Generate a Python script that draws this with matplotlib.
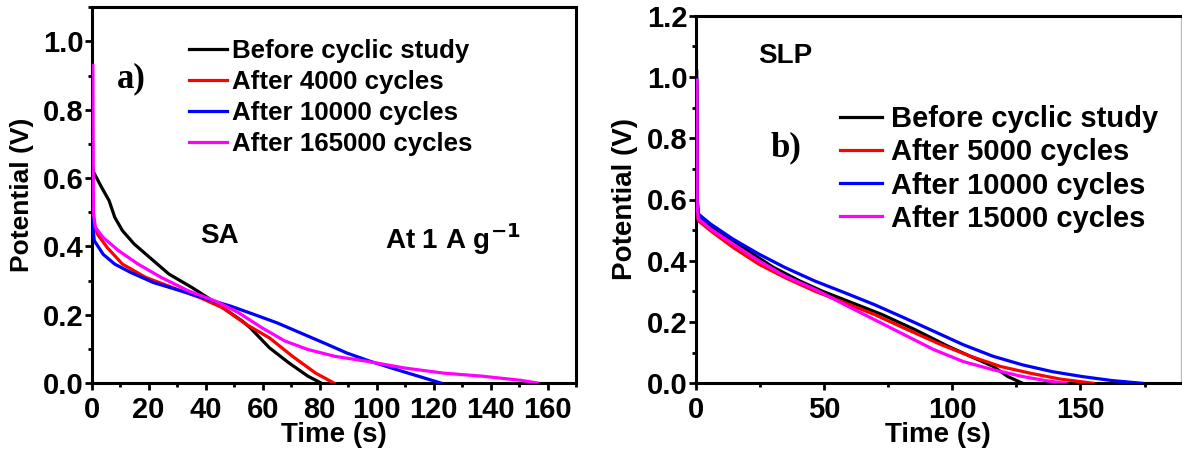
import matplotlib
matplotlib.use("Agg")
import matplotlib.pyplot as plt
from matplotlib.ticker import MultipleLocator

plt.rcParams['font.family'] = ['Liberation Sans', 'DejaVu Sans']
plt.rcParams['font.weight'] = 'bold'
plt.rcParams['mathtext.fontset'] = 'custom'
plt.rcParams['mathtext.rm'] = 'Liberation Sans:bold'
plt.rcParams['mathtext.default'] = 'regular'

# ---------------- Data: panel a (SA) ----------------
sa_labels = ["Before cyclic study", "After 4000 cycles", "After 10000 cycles", "After 165000 cycles"]
sa_colors = ["#000000", "#ff0000", "#0000ff", "#ff00ff"]

sa_black_t = [0.4, 0.5, 3.4, 6.1, 8.1, 10.8, 14.9, 20.3, 27.1, 35.3, 40.7, 46.1, 52.9, 55.6, 62.4, 69.2, 75.9, 80.5]
sa_black_v = [0.63, 0.62, 0.574, 0.534, 0.485, 0.446, 0.407, 0.368, 0.319, 0.279, 0.25, 0.22, 0.181, 0.162, 0.103, 0.059, 0.02, 0.0]

sa_red_t = [0.4, 0.6, 2, 5.4, 10.8, 19, 28.5, 38, 46, 54.2, 62.4, 70.5, 78.6, 85]
sa_red_v = [0.5, 0.47, 0.436, 0.397, 0.348, 0.309, 0.279, 0.25, 0.22, 0.172, 0.132, 0.078, 0.029, 0.0]

sa_blue_t = [0.4, 0.5, 0.9, 4, 8.1, 13.6, 21.7, 31.2, 40.7, 48.8, 56.9, 65.1, 73.2, 82.7, 89.5, 97.6, 107.1, 116.6, 122.5]
sa_blue_v = [0.48, 0.45, 0.417, 0.377, 0.348, 0.324, 0.294, 0.27, 0.245, 0.225, 0.201, 0.176, 0.147, 0.113, 0.088, 0.064, 0.039, 0.015, 0.0]

sa_mag_t = [0.4, 0.6, 1.3, 4, 9.5, 16.3, 24.4, 33.9, 43.4, 51.5, 59.7, 67.8, 75.9, 85.4, 96.3, 109.8, 123.4, 137, 150.5, 156.5]
sa_mag_v = [0.93, 0.5, 0.456, 0.426, 0.387, 0.348, 0.309, 0.27, 0.24, 0.206, 0.162, 0.123, 0.098, 0.078, 0.064, 0.044, 0.029, 0.02, 0.008, 0.0]

# ---------------- Data: panel b (SLP) ----------------
slp_labels = ["Before cyclic study", "After 5000 cycles", "After 10000 cycles", "After 15000 cycles"]
slp_colors = ["#000000", "#ff0000", "#0000ff", "#ff00ff"]

slp_black_t = [0.4, 0.6, 1.0, 4.3, 11.6, 20.3, 30.4, 40.6, 49.3, 60.9, 72.5, 85.5, 98.6, 108.7, 116, 121.7, 127.5]
slp_black_v = [1.02, 0.6, 0.553, 0.52, 0.476, 0.433, 0.378, 0.334, 0.301, 0.263, 0.225, 0.175, 0.12, 0.082, 0.055, 0.022, 0.0]

slp_red_t = [0.4, 0.6, 1.0, 5.8, 14.5, 24.6, 34.8, 46.4, 58, 69.6, 82.6, 95.7, 107.2, 118.8, 130.4, 142, 155]
slp_red_v = [0.98, 0.58, 0.531, 0.498, 0.444, 0.389, 0.345, 0.301, 0.263, 0.225, 0.175, 0.126, 0.088, 0.055, 0.033, 0.014, 0.0]

slp_blue_t = [0.4, 0.6, 1.0, 5.8, 14.5, 24.6, 34.8, 46.4, 58, 69.6, 81.2, 92.8, 104.3, 116, 127.5, 139, 150.7, 162.3, 174]
slp_blue_v = [0.99, 0.6, 0.553, 0.52, 0.471, 0.422, 0.378, 0.334, 0.296, 0.257, 0.214, 0.17, 0.126, 0.088, 0.06, 0.038, 0.022, 0.009, 0.0]

slp_mag_t = [0.4, 0.6, 1.0, 5.8, 14.5, 24.6, 34.8, 46.4, 58, 69.6, 81.2, 92.8, 104.3, 116, 127.5, 136.2, 144.2]
slp_mag_v = [0.99, 0.58, 0.537, 0.504, 0.455, 0.4, 0.35, 0.307, 0.257, 0.208, 0.159, 0.11, 0.071, 0.044, 0.022, 0.009, 0.0]

sa_series = [(sa_black_t, sa_black_v), (sa_red_t, sa_red_v), (sa_blue_t, sa_blue_v), (sa_mag_t, sa_mag_v)]
slp_series = [(slp_black_t, slp_black_v), (slp_red_t, slp_red_v), (slp_blue_t, slp_blue_v), (slp_mag_t, slp_mag_v)]

W, H = 1182, 451
fig = plt.figure(figsize=(W / 100, H / 100), dpi=100)

ax1 = fig.add_axes([91.7 / W, 1 - 383 / H, (576 - 91.7) / W, (383 - 7.3) / H])
ax2 = fig.add_axes([695.7 / W, 1 - 383.3 / H, (1180.5 - 695.7) / W, (383.3 - 15.7) / H])

def style(ax):
    for s in ax.spines.values():
        s.set_linewidth(2.2)
    ax.tick_params(axis='both', which='major', direction='out', length=5, width=2,
                   labelsize=21, top=False, right=False)
    ax.tick_params(axis='x', which='major', pad=4)
    ax.tick_params(axis='y', which='major', pad=1)
    ax.tick_params(axis='both', which='minor', direction='out', length=3, width=2,
                   top=False, right=False)
    for lab in ax.get_xticklabels() + ax.get_yticklabels():
        lab.set_fontweight('bold')

for (t, v), c, l in zip(sa_series, sa_colors, sa_labels):
    ax1.plot(t, v, color=c, lw=2.3, label=l, zorder=3)
ax1.set_xlim(0, 170)
ax1.set_ylim(0, 1.1)
ax1.xaxis.set_major_locator(MultipleLocator(20))
ax1.xaxis.set_minor_locator(MultipleLocator(10))
ax1.yaxis.set_minor_locator(MultipleLocator(0.1))
ax1.set_yticks([0, 0.2, 0.4, 0.6, 0.8, 1.0])
style(ax1)
ax1.set_xlabel("Time (s)", fontsize=20, fontweight='bold', labelpad=-1)
ax1.set_ylabel("Potential (V)", fontsize=19, fontweight='bold', labelpad=6)
leg1 = ax1.legend(loc='upper left', bbox_to_anchor=(0.185, 0.936), frameon=False,
                  prop={'size': 18.6, 'weight': 'bold'}, handlelength=1.45, handletextpad=0.2,
                  labelspacing=0.27, borderaxespad=0, borderpad=0.3)
ax1.text(45, 0.43, "SA", fontsize=20, fontweight='bold', ha='center', va='center')
ax1.text(103, 0.42, r"At 1 A g$^{\mathbf{-1}}$", fontsize=20, fontweight='bold', ha='left', va='center')
ax1.text(9, 0.89, "a)", fontsize=25, fontweight='bold', family='Liberation Serif', ha='left', va='center')

for (t, v), c, l in zip(slp_series, slp_colors, slp_labels):
    ax2.plot(t, v, color=c, lw=2.3, label=l, zorder=3)
ax2.set_xlim(0, 189)
ax2.set_ylim(0, 1.2)
ax2.xaxis.set_major_locator(MultipleLocator(50))
ax2.xaxis.set_minor_locator(MultipleLocator(25))
ax2.yaxis.set_major_locator(MultipleLocator(0.2))
ax2.yaxis.set_minor_locator(MultipleLocator(0.1))
style(ax2)
ax2.spines['right'].set_linewidth(1.0)
ax2.spines['right'].set_color('#bbbbbb')
ax2.set_xlabel("Time (s)", fontsize=20, fontweight='bold', labelpad=-1)
ax2.set_ylabel("Potential (V)", fontsize=20, fontweight='bold', labelpad=6)
leg2 = ax2.legend(loc='upper left', bbox_to_anchor=(0.28, 0.78), frameon=False,
                  prop={'size': 21, 'weight': 'bold'}, handlelength=1.45, handletextpad=0.3,
                  labelspacing=0.175, borderaxespad=0, borderpad=0.3)
ax2.text(35, 1.07, "SLP", fontsize=20, fontweight='bold', ha='center', va='center')
ax2.text(29, 0.77, "b)", fontsize=25, fontweight='bold', family='Liberation Serif', ha='left', va='center')

fig.savefig("out.png", dpi=100)
